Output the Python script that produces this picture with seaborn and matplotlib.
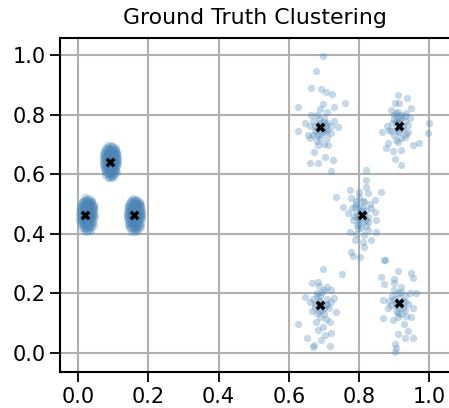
import numpy as np
import pandas as pd
import matplotlib
matplotlib.use("Agg")
import matplotlib.pyplot as plt
import seaborn as sns

# points, one pair of lists per cluster
# the three tight clusters on the left, typed row by row
c1_x = [0.020, 0.030,
        0.012, 0.022, 0.032, 0.040,
        0.008, 0.018, 0.028, 0.038, 0.045,
        0.006, 0.015, 0.025, 0.035, 0.044,
        0.005, 0.013, 0.022, 0.031, 0.040, 0.046,
        0.004, 0.012, 0.020, 0.029, 0.037, 0.046,
        0.005, 0.014, 0.023, 0.032, 0.041, 0.047,
        0.004, 0.012, 0.021, 0.030, 0.039, 0.046,
        0.006, 0.015, 0.025, 0.034, 0.043,
        0.007, 0.017, 0.027, 0.037, 0.045,
        0.010, 0.020, 0.030, 0.040,
        0.016, 0.026, 0.036,
        # in-between rows
        0.016, 0.026, 0.036,
        0.010, 0.020, 0.030, 0.041,
        0.007, 0.016, 0.026, 0.036, 0.044,
        0.006, 0.016, 0.026, 0.036, 0.045,
        0.008, 0.017, 0.026, 0.035, 0.043,
        0.008, 0.017, 0.026, 0.035, 0.044,
        0.008, 0.017, 0.026, 0.035, 0.043,
        0.009, 0.018, 0.028, 0.038,
        0.011, 0.021, 0.031, 0.041,
        0.014, 0.024, 0.034,
        0.020, 0.030]
c1_y = [0.522, 0.520,
        0.511, 0.512, 0.509, 0.510,
        0.500, 0.501, 0.499, 0.502, 0.498,
        0.490, 0.491, 0.489, 0.492, 0.488,
        0.480, 0.481, 0.479, 0.482, 0.478, 0.480,
        0.470, 0.471, 0.469, 0.472, 0.468, 0.470,
        0.460, 0.461, 0.459, 0.462, 0.458, 0.460,
        0.450, 0.451, 0.449, 0.452, 0.448, 0.450,
        0.440, 0.441, 0.439, 0.442, 0.438,
        0.430, 0.431, 0.429, 0.432, 0.428,
        0.420, 0.421, 0.419, 0.422,
        0.409, 0.407, 0.410,
        0.515, 0.516, 0.514,
        0.505, 0.506, 0.504, 0.505,
        0.495, 0.496, 0.494, 0.495, 0.495,
        0.485, 0.486, 0.484, 0.485, 0.485,
        0.475, 0.476, 0.474, 0.475, 0.475,
        0.465, 0.466, 0.464, 0.465, 0.465,
        0.455, 0.456, 0.454, 0.455, 0.455,
        0.445, 0.446, 0.444, 0.445,
        0.435, 0.436, 0.434, 0.435,
        0.425, 0.426, 0.424,
        0.415, 0.414]

c2_x = [0.086, 0.097,
        0.078, 0.089, 0.099, 0.108,
        0.074, 0.084, 0.094, 0.104, 0.112,
        0.072, 0.082, 0.092, 0.102, 0.111,
        0.071, 0.080, 0.089, 0.098, 0.107, 0.114,
        0.071, 0.079, 0.087, 0.096, 0.104, 0.113,
        0.072, 0.081, 0.090, 0.099, 0.108, 0.114,
        0.072, 0.080, 0.089, 0.098, 0.106, 0.112,
        0.074, 0.083, 0.092, 0.101, 0.109,
        0.076, 0.085, 0.094, 0.103, 0.110,
        0.078, 0.088, 0.097, 0.106,
        0.084, 0.093, 0.102,
        0.083, 0.093, 0.103,
        0.077, 0.087, 0.097, 0.108,
        0.074, 0.083, 0.093, 0.103, 0.111,
        0.073, 0.083, 0.093, 0.103, 0.112,
        0.075, 0.084, 0.093, 0.102, 0.110,
        0.075, 0.084, 0.093, 0.102, 0.111,
        0.075, 0.084, 0.093, 0.102, 0.110,
        0.076, 0.085, 0.095, 0.105,
        0.078, 0.088, 0.098, 0.108,
        0.081, 0.091, 0.101,
        0.087, 0.097]
c2_y = [0.697, 0.699,
        0.688, 0.689, 0.686, 0.687,
        0.678, 0.679, 0.677, 0.680, 0.676,
        0.668, 0.669, 0.667, 0.670, 0.666,
        0.658, 0.659, 0.657, 0.660, 0.656, 0.658,
        0.648, 0.649, 0.647, 0.650, 0.646, 0.648,
        0.638, 0.639, 0.637, 0.640, 0.636, 0.638,
        0.628, 0.629, 0.627, 0.630, 0.626, 0.628,
        0.618, 0.619, 0.617, 0.620, 0.616,
        0.608, 0.609, 0.607, 0.610, 0.606,
        0.598, 0.599, 0.597, 0.600,
        0.588, 0.586, 0.589,
        0.692, 0.693, 0.691,
        0.682, 0.683, 0.681, 0.682,
        0.672, 0.673, 0.671, 0.672, 0.672,
        0.662, 0.663, 0.661, 0.662, 0.662,
        0.652, 0.653, 0.651, 0.652, 0.652,
        0.642, 0.643, 0.641, 0.642, 0.642,
        0.632, 0.633, 0.631, 0.632, 0.632,
        0.622, 0.623, 0.621, 0.622,
        0.612, 0.613, 0.611, 0.612,
        0.602, 0.603, 0.601,
        0.592, 0.591]

c3_x = [0.155, 0.165,
        0.147, 0.157, 0.167, 0.175,
        0.143, 0.153, 0.163, 0.173, 0.180,
        0.141, 0.150, 0.160, 0.170, 0.179,
        0.140, 0.148, 0.157, 0.166, 0.175, 0.181,
        0.139, 0.147, 0.155, 0.164, 0.172, 0.181,
        0.140, 0.149, 0.158, 0.167, 0.176, 0.182,
        0.139, 0.147, 0.156, 0.165, 0.174, 0.181,
        0.141, 0.150, 0.160, 0.169, 0.178,
        0.142, 0.152, 0.162, 0.172, 0.180,
        0.145, 0.155, 0.165, 0.175,
        0.151, 0.161, 0.171,
        0.151, 0.161, 0.171,
        0.145, 0.155, 0.165, 0.176,
        0.142, 0.151, 0.161, 0.171, 0.179,
        0.141, 0.151, 0.161, 0.171, 0.180,
        0.143, 0.152, 0.161, 0.170, 0.178,
        0.143, 0.152, 0.161, 0.170, 0.179,
        0.143, 0.152, 0.161, 0.170, 0.178,
        0.144, 0.153, 0.163, 0.173,
        0.146, 0.156, 0.166, 0.176,
        0.149, 0.159, 0.169,
        0.155, 0.165]
c3_y = [0.520, 0.518,
        0.509, 0.510, 0.507, 0.508,
        0.498, 0.499, 0.497, 0.500, 0.496,
        0.488, 0.489, 0.487, 0.490, 0.486,
        0.478, 0.479, 0.477, 0.480, 0.476, 0.478,
        0.468, 0.469, 0.467, 0.470, 0.466, 0.468,
        0.458, 0.459, 0.457, 0.460, 0.456, 0.458,
        0.448, 0.449, 0.447, 0.450, 0.446, 0.448,
        0.438, 0.439, 0.437, 0.440, 0.436,
        0.428, 0.429, 0.427, 0.430, 0.426,
        0.418, 0.419, 0.417, 0.420,
        0.407, 0.405, 0.408,
        0.513, 0.514, 0.512,
        0.503, 0.504, 0.502, 0.503,
        0.493, 0.494, 0.492, 0.493, 0.493,
        0.483, 0.484, 0.482, 0.483, 0.483,
        0.473, 0.474, 0.472, 0.473, 0.473,
        0.463, 0.464, 0.462, 0.463, 0.463,
        0.453, 0.454, 0.452, 0.453, 0.453,
        0.443, 0.444, 0.442, 0.443,
        0.433, 0.434, 0.432, 0.433,
        0.423, 0.424, 0.422,
        0.413, 0.412]

# the five loose clusters on the right
c4_x = [0.697, 0.678, 0.662, 0.692, 0.706, 0.723, 0.626, 0.760, 0.728, 0.697, 0.664, 0.645, 0.626, 0.741, 0.654,
        0.721, 0.683, 0.711, 0.673, 0.702, 0.659, 0.725, 0.683, 0.721,
        0.680, 0.700, 0.670, 0.710, 0.690, 0.660, 0.720, 0.680, 0.700, 0.670, 0.690, 0.710, 0.680, 0.700, 0.660,
        0.730, 0.690, 0.710, 0.675, 0.695, 0.705, 0.685,
        0.685, 0.695, 0.675, 0.705, 0.690, 0.700, 0.680, 0.710]
c4_y = [0.998, 0.947, 0.890, 0.885, 0.877, 0.868, 0.824, 0.840, 0.824, 0.834, 0.799, 0.771, 0.745, 0.757, 0.732,
        0.737, 0.698, 0.698, 0.676, 0.659, 0.637, 0.648, 0.637, 0.611,
        0.800, 0.790, 0.780, 0.770, 0.770, 0.760, 0.760, 0.750, 0.740, 0.730, 0.720, 0.720, 0.710, 0.700, 0.720,
        0.780, 0.820, 0.810, 0.745, 0.755, 0.765, 0.785,
        0.765, 0.745, 0.760, 0.750, 0.735, 0.775, 0.730, 0.745]

c5_x = [0.910, 0.937, 0.901, 0.915, 0.948, 0.891, 0.905, 0.934, 1.000, 0.995, 0.865, 0.886, 0.938, 0.972, 0.953,
        0.882, 0.877, 0.910, 0.920, 0.896, 0.901, 0.918,
        0.900, 0.920, 0.910, 0.930, 0.895, 0.940, 0.905, 0.925, 0.890, 0.915, 0.935, 0.900, 0.920, 0.905, 0.930,
        0.910, 0.945, 0.880,
        0.910, 0.920, 0.905, 0.925, 0.915, 0.900, 0.930, 0.912]
c5_y = [0.866, 0.857, 0.840, 0.838, 0.821, 0.815, 0.804, 0.804, 0.773, 0.737, 0.743, 0.748, 0.743, 0.706, 0.698,
        0.706, 0.687, 0.709, 0.681, 0.679, 0.650, 0.631,
        0.800, 0.790, 0.780, 0.780, 0.770, 0.765, 0.755, 0.750, 0.745, 0.740, 0.735, 0.730, 0.720, 0.715, 0.725,
        0.790, 0.790, 0.760,
        0.810, 0.800, 0.775, 0.760, 0.770, 0.785, 0.795, 0.745]

c6_x = [0.820, 0.820, 0.820, 0.773, 0.801, 0.825, 0.861, 0.735, 0.778, 0.844, 0.754, 0.787, 0.834, 0.768, 0.844,
        0.782, 0.825, 0.849, 0.773, 0.796, 0.825, 0.849, 0.787, 0.810, 0.834, 0.815, 0.776, 0.782, 0.804, 0.872,
        0.790, 0.810, 0.800, 0.820, 0.795, 0.815, 0.800, 0.825, 0.785, 0.810, 0.795, 0.820, 0.805, 0.830, 0.780,
        0.800, 0.815, 0.790,
        0.805, 0.795, 0.815, 0.800, 0.810, 0.790, 0.820]
c6_y = [0.614, 0.581, 0.558, 0.547, 0.541, 0.536, 0.541, 0.522, 0.519, 0.513, 0.491, 0.491, 0.486, 0.469, 0.474,
        0.446, 0.441, 0.446, 0.407, 0.418, 0.413, 0.407, 0.379, 0.373, 0.379, 0.357, 0.340, 0.326, 0.323, 0.312,
        0.500, 0.510, 0.490, 0.480, 0.470, 0.465, 0.450, 0.455, 0.460, 0.440, 0.430, 0.425, 0.420, 0.500, 0.485,
        0.525, 0.395, 0.400,
        0.475, 0.455, 0.505, 0.435, 0.485, 0.510, 0.445]

c7_x = [0.697, 0.751, 0.666, 0.683, 0.719, 0.647, 0.730, 0.659, 0.735, 0.626, 0.678, 0.716, 0.697, 0.683, 0.721,
        0.702, 0.652, 0.692, 0.671, 0.716, 0.669,
        0.680, 0.700, 0.690, 0.710, 0.670, 0.685, 0.705, 0.675, 0.715, 0.695, 0.680, 0.700, 0.665, 0.720, 0.690,
        0.705, 0.685, 0.710,
        0.690, 0.680, 0.700, 0.675, 0.695, 0.710, 0.685]
c7_y = [0.282, 0.264, 0.234, 0.239, 0.211, 0.189, 0.183, 0.172, 0.139, 0.096, 0.105, 0.105, 0.088, 0.077, 0.066,
        0.060, 0.049, 0.044, 0.027, 0.024, 0.021,
        0.200, 0.210, 0.190, 0.180, 0.180, 0.170, 0.165, 0.155, 0.150, 0.145, 0.135, 0.130, 0.140, 0.170, 0.120,
        0.115, 0.225, 0.220,
        0.175, 0.190, 0.150, 0.165, 0.205, 0.160, 0.140]

c8_x = [0.874, 0.910, 0.948, 0.861, 0.899, 0.953, 0.872, 0.962, 0.867, 0.882, 0.953, 0.867, 0.948, 0.896, 0.929,
        0.940, 0.910, 0.953, 0.931, 0.901, 0.901, 0.905,
        0.900, 0.920, 0.910, 0.930, 0.895, 0.925, 0.905, 0.940, 0.890, 0.915, 0.930, 0.905, 0.920, 0.910, 0.935,
        0.885, 0.945, 0.900,
        0.915, 0.905, 0.925, 0.910, 0.920, 0.900, 0.930]
c8_y = [0.312, 0.275, 0.267, 0.256, 0.248, 0.253, 0.230, 0.200, 0.178, 0.150, 0.150, 0.116, 0.122, 0.111, 0.099,
        0.074, 0.063, 0.051, 0.049, 0.029, 0.004, 0.016,
        0.210, 0.220, 0.200, 0.190, 0.190, 0.175, 0.170, 0.165, 0.160, 0.155, 0.145, 0.140, 0.130, 0.120, 0.125,
        0.175, 0.200, 0.235,
        0.185, 0.160, 0.150, 0.135, 0.205, 0.180, 0.170]

# ground truth centres (black X)
centre_x = [0.020, 0.091, 0.159, 0.688, 0.915, 0.807, 0.690, 0.915]
centre_y = [0.463, 0.641, 0.463, 0.758, 0.762, 0.463, 0.161, 0.168]

pts = pd.DataFrame({
    "x": c1_x + c2_x + c3_x + c4_x + c5_x + c6_x + c7_x + c8_x,
    "y": c1_y + c2_y + c3_y + c4_y + c5_y + c6_y + c7_y + c8_y,
})
centres = pd.DataFrame({"x": centre_x, "y": centre_y})

sns.set_style("ticks", {"axes.grid": True, "grid.color": "#b0b0b0", "axes.edgecolor": "black",
                        "text.color": "black", "xtick.color": "black", "ytick.color": "black"})

fig = plt.figure(figsize=(4.49, 4.08), dpi=100)
ax = fig.add_axes([0.134, 0.088, 0.866, 0.819])

sns.scatterplot(data=pts, x="x", y="y", color="steelblue", alpha=0.3, s=28, linewidth=0, ax=ax)
sns.scatterplot(data=centres, x="x", y="y", color="black", marker="X", s=50, linewidth=0, ax=ax)

ax.set_xlim(-0.051, 1.056)
ax.set_ylim(-0.064, 1.057)
ax.set_xticks([0.0, 0.2, 0.4, 0.6, 0.8, 1.0])
ax.set_yticks([0.0, 0.2, 0.4, 0.6, 0.8, 1.0])
ax.set_xlabel("")
ax.set_ylabel("")
ax.set_title("Ground Truth Clustering", fontsize=15.8, pad=10, color="black")
ax.grid(True, color="#b0b0b0", linewidth=1.5)
ax.tick_params(labelsize=15, length=7, width=1.3, color="black", labelcolor="black")
ax.spines["right"].set_visible(False)
for s in ["left", "top", "bottom"]:
    ax.spines[s].set_linewidth(1.5)
    ax.spines[s].set_color("black")

fig.savefig("out.png", dpi=100)
